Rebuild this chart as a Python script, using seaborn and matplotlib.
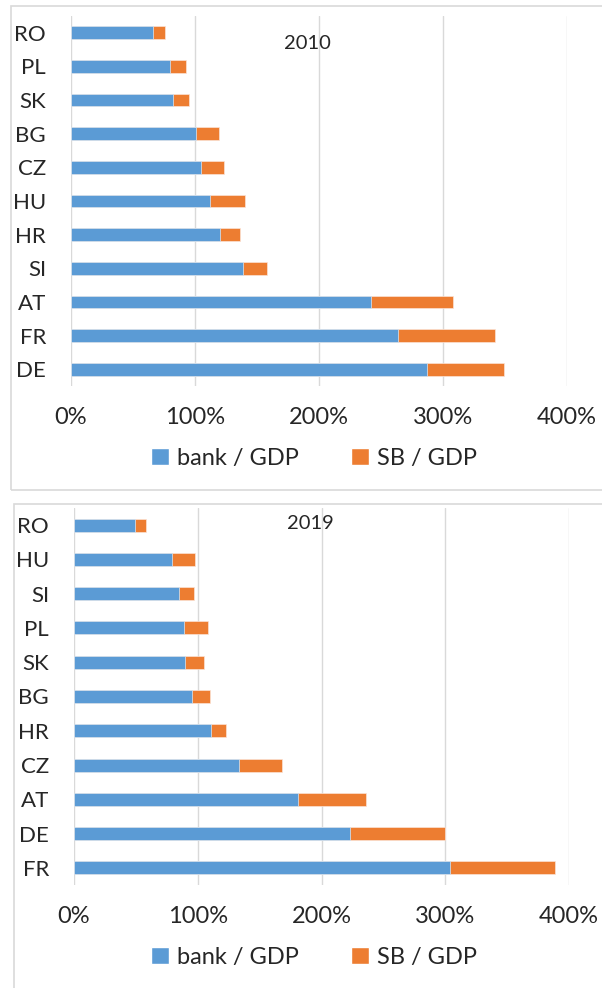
import matplotlib.pyplot as plt
import pandas as pd
import seaborn as sns
from matplotlib.patches import Rectangle, Patch

# 2010 panel
countries_2010 = ["RO", "PL", "SK", "BG", "CZ", "HU", "HR", "SI", "AT", "FR", "DE"]
bank_2010 = [66, 80, 82, 101, 105, 112, 120, 139, 242, 264, 287]
sb_2010 = [10, 13, 13, 18, 18, 28, 16, 19, 66, 78, 62]

# 2019 panel
countries_2019 = ["RO", "HU", "SI", "PL", "SK", "BG", "HR", "CZ", "AT", "DE", "FR"]
bank_2019 = [49, 79, 85, 89, 90, 95, 111, 133, 181, 223, 304]
sb_2019 = [9, 19, 12, 19, 15, 15, 12, 35, 55, 77, 85]

xticks = [0, 100, 200, 300, 400]
xtick_labels = ["0%", "100%", "200%", "300%", "400%"]

BLUE = "#5B9BD5"
ORANGE = "#ED7D31"
GRID = "#D9D9D9"

sns.set_style("white")
plt.rcParams['font.family'] = ['Lato', 'DejaVu Sans']

fig = plt.figure(figsize=(6.02, 9.88), dpi=100)


def draw_panel(ax, countries, bank, sb, year, title_xy, legend_y):
	df = pd.DataFrame({"country": countries, "bank": bank, "sb": sb})
	df["total"] = df["bank"] + df["sb"]

	sns.barplot(data=df, x="total", y="country", order=countries, color=ORANGE,
				orient="h", width=0.38, errorbar=None, saturation=1,
				edgecolor="#FBE3D6", linewidth=0.5, ax=ax)
	sns.barplot(data=df, x="bank", y="country", order=countries, color=BLUE,
				orient="h", width=0.38, errorbar=None, saturation=1,
				edgecolor="#DCE9F5", linewidth=0.5, ax=ax)

	ax.set_xlim(0, 400)
	ax.set_ylim(len(countries) - 0.5, -0.5)
	ax.set_xticks(xticks)
	ax.set_xticklabels(xtick_labels)
	ax.grid(axis="x", color=GRID, lw=1)
	ax.set_axisbelow(True)
	for s in ax.spines.values():
		s.set_visible(False)
	ax.tick_params(axis="y", length=0, pad=18, labelsize=16)
	ax.tick_params(axis="x", length=0, pad=15, labelsize=17)
	ax.set_xlabel("")
	ax.set_ylabel("")

	ax.text(title_xy[0], title_xy[1], year, transform=ax.transAxes,
			ha="center", va="center", fontsize=14.5)

	handles = [Patch(facecolor=BLUE, label="bank / GDP"),
			   Patch(facecolor=ORANGE, label="SB / GDP")]
	fig.legend(handles=handles, loc="center", bbox_to_anchor=(0.522, legend_y),
			   ncol=2, frameon=False, fontsize=17, handlelength=0.75,
			   handleheight=0.75, handletextpad=0.35, columnspacing=2.2)


ax1 = fig.add_axes([71 / 602, 1 - 386 / 988, 496 / 602, 370 / 988])
draw_panel(ax1, countries_2010, bank_2010, sb_2010, "2010", (0.476, 0.927), 1 - 458 / 988)

ax2 = fig.add_axes([74 / 602, 1 - 885 / 988, 495 / 602, 377 / 988])
draw_panel(ax2, countries_2019, bank_2019, sb_2019, "2019", (0.477, 0.96), 1 - 957 / 988)

# panel frames
fig.patches.append(Rectangle((11 / 602, 1 - 490 / 988), 600 / 602, 484 / 988,
							 transform=fig.transFigure, fill=False, edgecolor=GRID, lw=1.2))
fig.patches.append(Rectangle((14 / 602, -0.01), 600 / 602, 494 / 988,
							 transform=fig.transFigure, fill=False, edgecolor=GRID, lw=1.2))

fig.savefig("out.png", dpi=100)
